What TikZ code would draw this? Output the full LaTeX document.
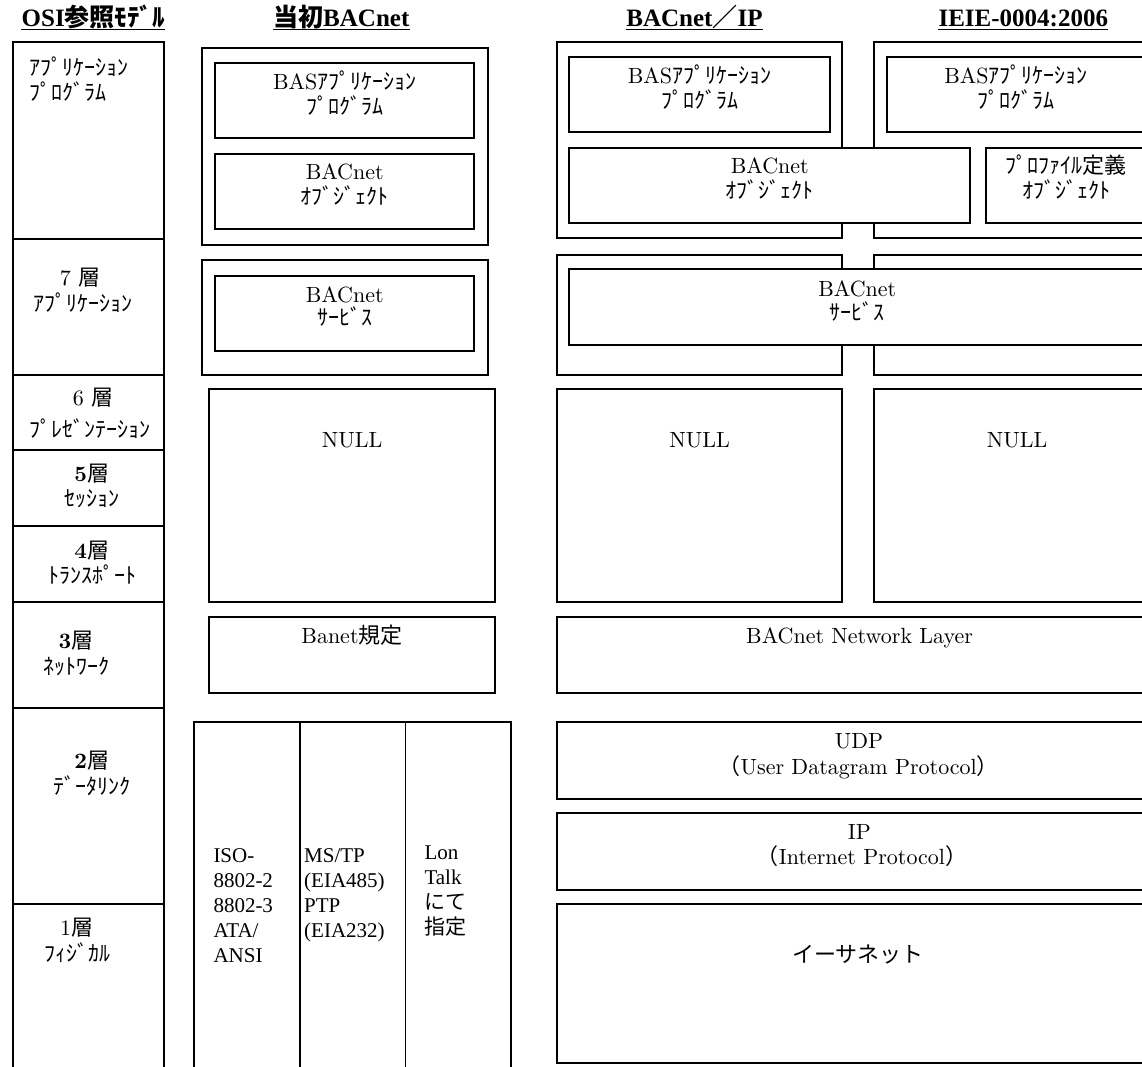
\documentclass[tikz,border=0pt]{standalone}
\usepackage{fontspec}
\setmainfont{lmroman10-regular.otf}[BoldFont=lmroman10-bold.otf]
\newfontfamily\jp{Noto Sans CJK JP}
\newfontfamily\tms{Liberation Serif}
\newcommand\bodysize{\fontsize{22}{25}\selectfont}
\newcommand\ttlsize{\fontsize{25}{28}\selectfont}
\newcommand\dlsize{\fontsize{21}{25}\selectfont}
\tikzset{
  frame/.style={draw=black, line width=1.8pt, fill=white},
  rule/.style={draw=black, line width=1.8pt},
  dlrule/.style={draw=black, line width=1.4pt},
  lbl/.style={inner sep=0pt, anchor=base, font=\bodysize},
  lblL/.style={inner sep=0pt, anchor=base west, font=\bodysize},
  ttl/.style={inner sep=0pt, anchor=base, font=\ttlsize\bfseries},
  ul/.style={draw=black, line width=1.4pt},
  dltext/.style={inner sep=0pt, anchor=base west, font=\dlsize\tms},
}
\begin{document}
\begin{tikzpicture}[x=1pt,y=-1pt]
\useasboundingbox (0,0) rectangle (1142,1067);
\clip (0,0) rectangle (1142,1067);

% ---------- titles ----------
\node[ttl] (osiT) at (93.2,26.5) {{\tms OSI}{\jp 参照ﾓﾃﾞﾙ}};
\node[ttl] (bacT) at (341.3,26.5) {{\jp 当初}{\tms BACnet}};
\node[ttl] (ipT) at (694.5,26.5) {{\tms BACnet}{\jp ／}{\tms IP}};
\node[ttl] (ieT) at (1023.3,26.5) {{\tms IEIE-0004:2006}};
\foreach \t in {osiT,bacT,ipT,ieT}
  \draw[ul] ([yshift=-3.2pt]\t.base west) -- ([yshift=-3.2pt]\t.base east);

% ---------- OSI column ----------
\draw[rule] (12.7,1075) -- (12.7,41.7) -- (163.7,41.7) -- (163.7,1075);
\foreach \yy in {238.7,375,450,526,602,707.7,904.3}
  \draw[rule] (12.7,\yy) -- (163.7,\yy);

% ---------- initial BACnet column ----------
\draw[frame] (201.7,48.3) rectangle (487.7,245);
\draw[frame] (215,63.3) rectangle (474.3,137.7);
\draw[frame] (215,154) rectangle (474.3,229.3);
\draw[frame] (201.7,260) rectangle (487.7,375);
\draw[frame] (215,276) rectangle (474.3,351);
\draw[frame] (209,389) rectangle (495.3,602);
\draw[frame] (209,617) rectangle (495.3,693);
\draw[dlrule] (194,1075) -- (194,722) -- (511,722) -- (511,1075);
\draw[dlrule] (300,722) -- (300,1075);
\draw[dlrule] (405.3,722) -- (405.3,1075);

% ---------- BACnet/IP and IEIE columns ----------
\draw[frame] (556.7,41.7) rectangle (842,238.3);
\draw[frame] (874.3,41.7) rectangle (1160,238.3);
\draw[frame] (556.7,255) rectangle (842,375);
\draw[frame] (874.3,255) rectangle (1160,375);
\draw[frame] (569.3,57.3) rectangle (829.7,132.3);
\draw[frame] (887,57.3) rectangle (1145,132.3);
\draw[frame] (569.3,148.3) rectangle (970.3,222.7);
\draw[frame] (986,148.3) rectangle (1146,222.7);
\draw[frame] (569.3,269.3) rectangle (1145.3,345);
\draw[frame] (556.7,389) rectangle (842,602);
\draw[frame] (874.3,389) rectangle (1160,602);
\draw[frame] (556.7,617) rectangle (1160,692.7);
\draw[frame] (556.7,722) rectangle (1160,798.7);
\draw[frame] (556.7,813) rectangle (1160,889.7);
\draw[frame] (556.7,904.3) rectangle (1160,1063);

% ---------- OSI labels ----------
\node[lblL] (o8a) at (29.3,76) {\jp ｱﾌﾟﾘｹｰｼｮﾝ};
\node[lblL] (o8b) at (29.3,101) {\jp ﾌﾟﾛｸﾞﾗﾑ};
\node[lbl] (o7a) at (80,285) {7 {\jp 層}};
\node[lbl] (o7b) at (83.3,311) {\jp ｱﾌﾟﾘｹｰｼｮﾝ};
\node[lbl] (o6a) at (93,405) {6 {\jp 層}};
\node[lbl] (o6b) at (90,437.5) {\jp ﾌﾟﾚｾﾞﾝﾃｰｼｮﾝ};
\node[lbl] (o5a) at (91.7,481) {{\bfseries 5}{\jp 層}};
\node[lbl] (o5b) at (91.7,506.5) {\jp ｾｯｼｮﾝ};
\node[lbl] (o4a) at (91.7,558) {{\bfseries 4}{\jp 層}};
\node[lbl] (o4b) at (92.5,583.5) {\jp ﾄﾗﾝｽﾎﾟｰﾄ};
\node[lbl] (o3a) at (76,648) {{\bfseries 3}{\jp 層}};
\node[lbl] (o3b) at (76.7,674.5) {\jp ﾈｯﾄﾜｰｸ};
\node[lbl] (o2a) at (91.7,768) {{\bfseries 2}{\jp 層}};
\node[lbl] (o2b) at (91.7,794.5) {\jp ﾃﾞｰﾀﾘﾝｸ};
\node[lbl] (o1a) at (76.7,935.5) {1{\jp 層}};
\node[lbl] (o1b) at (77,961) {\jp ﾌｨｼﾞｶﾙ};

% ---------- initial BACnet labels ----------
\node[lbl] (b1a) at (344.7,89.3) {BAS{\jp ｱﾌﾟﾘｹｰｼｮﾝ}};
\node[lbl] (b1b) at (344.7,115) {\jp ﾌﾟﾛｸﾞﾗﾑ};
\node[lbl] (b2a) at (344.7,180) {BACnet};
\node[lbl] (b2b) at (344.7,205) {\jp ｵﾌﾞｼﾞｪｸﾄ};
\node[lbl] (b3a) at (344.7,302) {BACnet};
\node[lbl] (b3b) at (344.7,325) {\jp ｻｰﾋﾞｽ};
\node[lbl] (bnull) at (352,447.5) {NULL};
\node[lbl] (bnet) at (352,643) {Banet{\jp 規定}};
\node[dltext] (iso) at (213.3,862) {\begin{tabular}[t]{@{}l@{}}ISO-\\8802-2\\8802-3\\ATA/\\ANSI\end{tabular}};
\node[dltext] (mstp) at (304,862) {\begin{tabular}[t]{@{}l@{}}MS/TP\\(EIA485)\\PTP\\(EIA232)\end{tabular}};
\node[dltext] (lon) at (424.3,859) {\begin{tabular}[t]{@{}l@{}}Lon\\Talk\\{\jp にて}\\{\jp 指定}\end{tabular}};

% ---------- BACnet/IP and IEIE labels ----------
\node[lbl] (i1a) at (699.5,83.5) {BAS{\jp ｱﾌﾟﾘｹｰｼｮﾝ}};
\node[lbl] (i1b) at (699.5,108.5) {\jp ﾌﾟﾛｸﾞﾗﾑ};
\node[lbl] (e1a) at (1016,83.5) {BAS{\jp ｱﾌﾟﾘｹｰｼｮﾝ}};
\node[lbl] (e1b) at (1016,108.5) {\jp ﾌﾟﾛｸﾞﾗﾑ};
\node[lbl] (w2a) at (769.8,174) {BACnet};
\node[lbl] (w2b) at (769.8,199) {\jp ｵﾌﾞｼﾞｪｸﾄ};
\node[lbl] (p2a) at (1066,174) {\jp ﾌﾟﾛﾌｧｲﾙ定義};
\node[lbl] (p2b) at (1066,199) {\jp ｵﾌﾞｼﾞｪｸﾄ};
\node[lbl] (w3a) at (857.3,296) {BACnet};
\node[lbl] (w3b) at (857.3,320.5) {\jp ｻｰﾋﾞｽ};
\node[lbl] (inull) at (699.5,447.5) {NULL};
\node[lbl] (enull) at (1017,447.5) {NULL};
\node[lbl] (nl) at (859.6,643) {BACnet Network Layer};
\node[lbl] (udpa) at (859,748) {UDP};
\node[lbl] (udpb) at (858.7,774) {{\jp （}User Datagram Protocol{\jp ）}};
\node[lbl] (ipa) at (859.3,839) {IP};
\node[lbl] (ipb) at (862,864) {{\jp （}Internet Protocol{\jp ）}};
\node[lbl] (eth) at (857.8,962) {\jp イーサネット};
\end{tikzpicture}
\end{document}
